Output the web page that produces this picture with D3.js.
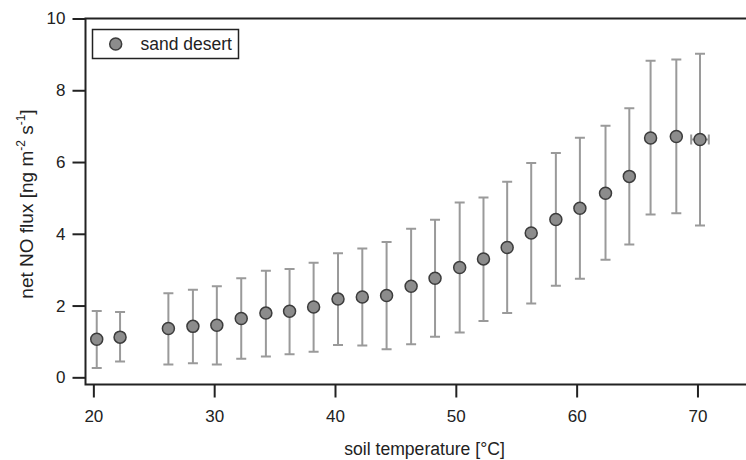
<!DOCTYPE html>
<html>
<head>
<meta charset="utf-8">
<script src="https://cdn.jsdelivr.net/npm/d3@7"></script>
<style>
  body { margin: 0; background: #fff; }
  text { font-family: "Liberation Sans", Arial, sans-serif; fill: #222; }
</style>
</head>
<body>
<svg id="paper" width="746" height="460"></svg>
<script>
// soil temperature bins [°C]
let temps = [20.28, 22.21, 26.21, 28.24, 30.22, 32.24, 34.28, 36.24, 38.23, 40.25,
    42.26, 44.27, 46.30, 48.28, 50.32, 52.29, 54.25, 56.24, 58.28, 60.27,
    62.39, 64.36, 66.12, 68.25, 70.21];
// net NO flux mean and error bar ends [ng m-2 s-1]
let fluxMean = [1.06, 1.12, 1.36, 1.42, 1.45, 1.64, 1.79, 1.84, 1.96, 2.18,
    2.24, 2.28, 2.54, 2.76, 3.06, 3.30, 3.62, 4.02, 4.40, 4.71,
    5.13, 5.60, 6.67, 6.71, 6.63];
let fluxUpper = [1.85, 1.82, 2.34, 2.44, 2.54, 2.76, 2.97, 3.02, 3.19, 3.46,
    3.59, 3.77, 4.14, 4.39, 4.87, 5.01, 5.45, 5.97, 6.25, 6.68,
    7.01, 7.50, 8.82, 8.86, 9.02];
let fluxLower = [0.26, 0.44, 0.36, 0.39, 0.36, 0.52, 0.58, 0.64, 0.71, 0.90,
    0.89, 0.78, 0.92, 1.13, 1.25, 1.57, 1.79, 2.06, 2.55, 2.75,
    3.28, 3.70, 4.54, 4.57, 4.23];
// horizontal error (temperature), only visible on the last bin
let tempErr = [0, 0, 0, 0, 0, 0, 0, 0, 0, 0, 0, 0, 0, 0, 0, 0, 0, 0, 0, 0,
    0, 0, 0, 0, 0.73];
let xTicks = [20, 30, 40, 50, 60, 70];
let yTicks = [0, 2, 4, 6, 8, 10];
let legendLabel = "sand desert";

let data = temps.map((t, i) => ({
    t: t, mean: fluxMean[i], lo: fluxLower[i], hi: fluxUpper[i], terr: tempErr[i]
}));

let svg = d3.select("#paper");
let margin = {left: 85.5, right: 747, top: 18.5, bottom: 384.5};

let x = d3.scaleLinear().domain([19.35, 74.1]).range([margin.left, margin.right]);
let y = d3.scaleLinear().domain([-0.2, 10]).range([margin.bottom, margin.top]);

let axisColor = "#222";
let barColor = "#9a9a9a";
let tickFont = "17px";

// frame (left, top, bottom)
svg.append("path")
    .attr("d", "M" + margin.right + "," + margin.top + "H" + margin.left +
        "V" + margin.bottom + "H" + margin.right)
    .attr("fill", "none")
    .attr("stroke", axisColor)
    .attr("stroke-width", 2);

// y axis
let yAxis = d3.axisLeft(y).tickValues(yTicks).tickSize(13).tickPadding(7)
    .tickFormat(d3.format("d"));
let gy = svg.append("g")
    .attr("transform", "translate(" + margin.left + ",0)")
    .call(yAxis);
gy.select(".domain").remove();
gy.selectAll(".tick line").attr("stroke", axisColor).attr("stroke-width", 2);
gy.selectAll(".tick text")
    .style("font-size", tickFont)
    .style("font-family", "'Liberation Sans', Arial, sans-serif")
    .attr("fill", "#222");

// x axis
let xAxis = d3.axisBottom(x).tickValues(xTicks).tickSize(13).tickPadding(12)
    .tickFormat(d3.format("d"));
let gx = svg.append("g")
    .attr("transform", "translate(0," + margin.bottom + ")")
    .call(xAxis);
gx.select(".domain").remove();
gx.selectAll(".tick line").attr("stroke", axisColor).attr("stroke-width", 2);
gx.selectAll(".tick text")
    .style("font-size", tickFont)
    .style("font-family", "'Liberation Sans', Arial, sans-serif")
    .attr("fill", "#222");

// axis titles
svg.append("text")
    .attr("x", 424.5)
    .attr("y", 455)
    .attr("text-anchor", "middle")
    .style("font-size", "17.6px")
    .text("soil temperature [°C]");

let ylab = svg.append("text")
    .attr("transform", "translate(33,204) rotate(-90)")
    .attr("text-anchor", "middle")
    .style("font-size", "19px");
ylab.append("tspan").text("net NO flux [ng m");
ylab.append("tspan").attr("dy", -8).style("font-size", "12px").text("-2");
ylab.append("tspan").attr("dy", 8).text(" s");
ylab.append("tspan").attr("dy", -8).style("font-size", "12px").text("-1");
ylab.append("tspan").attr("dy", 8).text("]");

// error bars
let cap = 5;
let bars = svg.append("g").attr("stroke", barColor).attr("stroke-width", 2).attr("fill", "none");
bars.selectAll(".vbar")
    .data(data)
    .enter()
    .append("path")
    .classed("vbar", true)
    .attr("d", d => {
        let cx = x(d.t);
        return "M" + cx + "," + y(d.lo) + "V" + y(d.hi) +
            "M" + (cx - cap) + "," + y(d.hi) + "H" + (cx + cap) +
            "M" + (cx - cap) + "," + y(d.lo) + "H" + (cx + cap);
    });
bars.selectAll(".hbar")
    .data(data.filter(d => d.terr > 0))
    .enter()
    .append("path")
    .classed("hbar", true)
    .attr("d", d => {
        let cy = y(d.mean);
        return "M" + x(d.t - d.terr) + "," + cy + "H" + x(d.t + d.terr) +
            "M" + x(d.t - d.terr) + "," + (cy - cap) + "V" + (cy + cap) +
            "M" + x(d.t + d.terr) + "," + (cy - cap) + "V" + (cy + cap);
    });

// markers
svg.selectAll(".pt")
    .data(data)
    .enter()
    .append("circle")
    .classed("pt", true)
    .attr("cx", d => x(d.t))
    .attr("cy", d => y(d.mean))
    .attr("r", 6)
    .attr("fill", "#8c8c8c")
    .attr("stroke", "#3c3c3c")
    .attr("stroke-width", 1.5);

// legend
let lg = svg.append("g");
lg.append("rect")
    .attr("x", 92.5).attr("y", 29.5)
    .attr("width", 146).attr("height", 29)
    .attr("fill", "#fff")
    .attr("stroke", axisColor)
    .attr("stroke-width", 1.5);
lg.append("circle")
    .attr("cx", 115.7).attr("cy", 44)
    .attr("r", 6)
    .attr("fill", "#8c8c8c")
    .attr("stroke", "#3c3c3c")
    .attr("stroke-width", 1.5);
lg.append("text")
    .attr("x", 140.5).attr("y", 50)
    .style("font-size", "17.5px")
    .text(legendLabel);
</script>
</body>
</html>
